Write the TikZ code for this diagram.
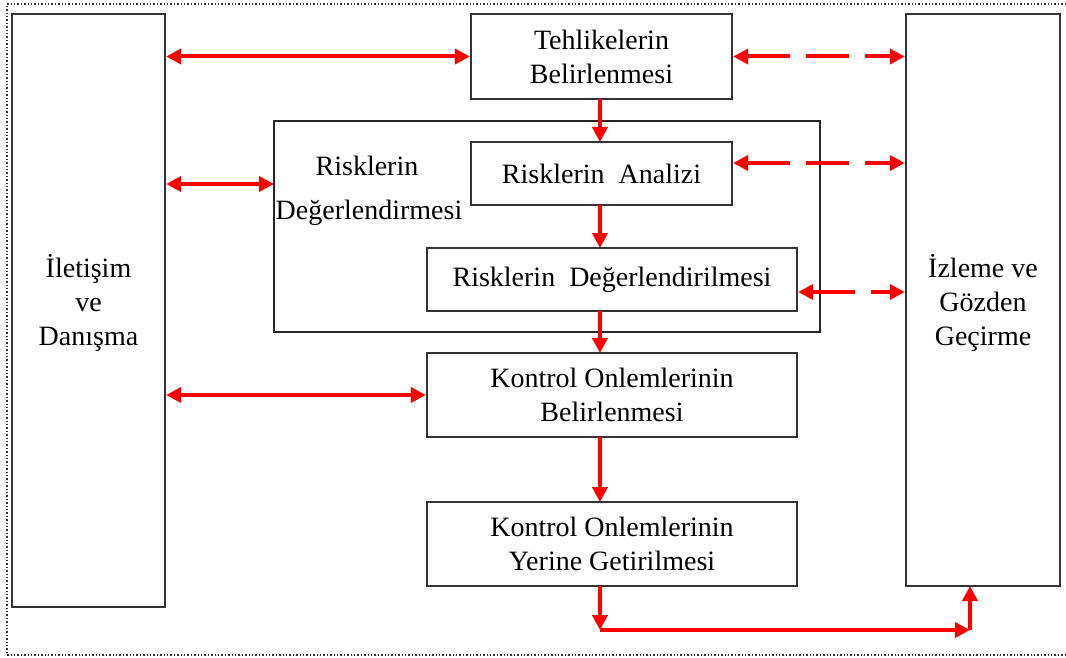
\documentclass[tikz,border=0pt]{standalone}
\usepackage{fontspec}
\setmainfont{Liberation Serif}
\usetikzlibrary{arrows.meta}
\begin{document}
\begin{tikzpicture}[x=1pt,y=-1pt,
  txt/.style={font=\fontsize{28}{34}\selectfont, align=center, inner sep=0pt},
  box/.style={txt, draw=black!80, line width=2.3pt, fill=white},
  group/.style={draw=black!85, line width=1.6pt},
  tip/.tip={Triangle[length=15pt,width=15pt]},
  link/.style={draw=red, line width=4pt, tip-tip},
  flow/.style={draw=red, line width=4pt, -tip},
  dlink/.style={link, dash pattern=on 43pt off 16pt},
]
\useasboundingbox (0,0) rectangle (1066,658);
% dotted frame
\draw[line width=1.4pt, dotted, black!80] (1066,4) -- (7,4) -- (7,655) -- (1066,655);

% risk assessment group
\draw[group] (274,121) rectangle (820,332);
\node[txt] (rdl1) at (367,166) {Risklerin};
\node[txt] (rdl2) at (369,213) {Değerlendirmesi};

% side boxes
\node[box, minimum width=153pt, minimum height=593pt] (il) at (88.5,310.5) {};
\node[txt] (ilt) at (88.5,303) {İletişim\\ve\\Danışma};
\node[box, minimum width=154pt, minimum height=572pt] (iz) at (983,300) {};
\node[txt] (izt) at (983,303) {İzleme ve\\Gözden\\Geçirme};

% process boxes
\node[box, minimum width=261pt, minimum height=85pt] (tb) at (601.5,56.5) {Tehlikelerin\\Belirlenmesi};
\node[box, minimum width=261pt, minimum height=63pt] (ra) at (601.5,173.5) {Risklerin\ \ Analizi};
\node[box, minimum width=370pt, minimum height=63pt] (rd) at (612,279.5) {Risklerin\ \ Değerlendirilmesi};
\node[box, minimum width=370pt, minimum height=84pt] (k1) at (612,395) {Kontrol Onlemlerinin\\Belirlenmesi};
\node[box, minimum width=370pt, minimum height=84pt] (k2) at (612,544) {Kontrol Onlemlerinin\\Yerine Getirilmesi};

% main flow
\draw[flow] (600,99) -- (600,142);
\draw[flow] (600,205) -- (600,248);
\draw[flow] (600,311) -- (600,353);
\draw[flow] (600,437) -- (600,502);

% communication links
\draw[link] (il.east |- tb.west) -- (tb.west);
\draw[link] (il.east |- 0,184) -- (274,184);
\draw[link] (il.east |- k1.west) -- (k1.west);

% monitoring links
\draw[dlink] (tb.east) -- (tb.east -| iz.west);
\draw[dlink] (ra.east |- 0,163) -- (iz.west |- 0,163);
\draw[dlink] (rd.east |- 0,292) -- (iz.west |- 0,292);

% feedback to monitoring
\coordinate (c1) at (600,630);
\coordinate (c2) at (970,630);
\draw[flow] (600,586) -- (c1);
\draw[flow] (c1) -- (c2);
\draw[flow] (c2) -- (970,586);
\end{tikzpicture}
\end{document}
